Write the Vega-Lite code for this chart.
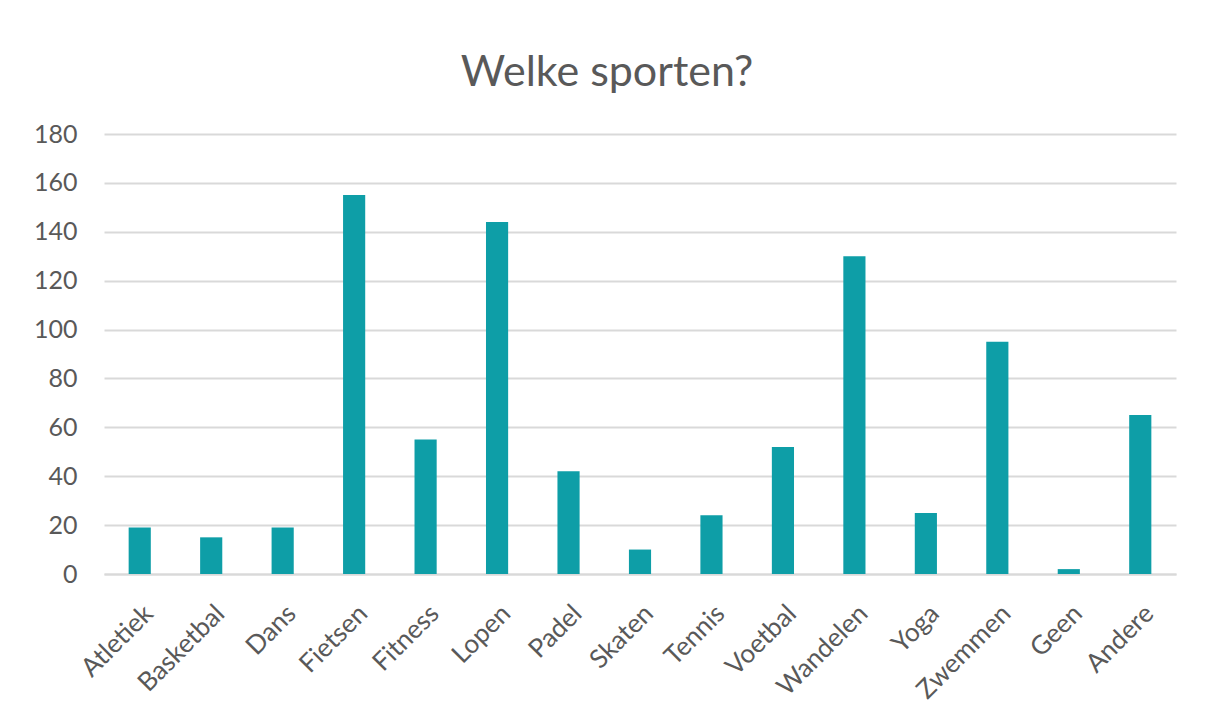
{
  "$schema": "https://vega.github.io/schema/vega-lite/v6.json",
  "width": 1072,
  "height": 440,
  "padding": {"left": 33, "top": 52, "right": 31, "bottom": 10},
  "background": "white",
  "title": {
    "text": "Welke sporten?",
    "font": "Lato",
    "fontSize": 43,
    "fontWeight": "normal",
    "color": "#595959",
    "offset": 27,
    "dx": -33
  },
  "data": {
    "values": [
      {"sport": "Atletiek", "aantal": 19},
      {"sport": "Basketbal", "aantal": 15},
      {"sport": "Dans", "aantal": 19},
      {"sport": "Fietsen", "aantal": 155},
      {"sport": "Fitness", "aantal": 55},
      {"sport": "Lopen", "aantal": 144},
      {"sport": "Padel", "aantal": 42},
      {"sport": "Skaten", "aantal": 10},
      {"sport": "Tennis", "aantal": 24},
      {"sport": "Voetbal", "aantal": 52},
      {"sport": "Wandelen", "aantal": 130},
      {"sport": "Yoga", "aantal": 25},
      {"sport": "Zwemmen", "aantal": 95},
      {"sport": "Geen", "aantal": 2},
      {"sport": "Andere", "aantal": 65}
    ]
  },
  "mark": {"type": "bar", "color": "#0E9EA7", "width": {"band": 0.31}},
  "encoding": {
    "x": {
      "field": "sport",
      "type": "nominal",
      "sort": null,
      "scale": {"paddingInner": 0, "paddingOuter": 0},
      "axis": {
        "title": null,
        "labelAngle": -45,
        "labelFont": "Lato",
        "labelFontSize": 26,
        "labelColor": "#595959",
        "labelPadding": 26,
        "ticks": false,
        "domain": true,
        "domainColor": "#D9D9D9",
        "domainWidth": 2,
        "grid": false
      }
    },
    "y": {
      "field": "aantal",
      "type": "quantitative",
      "scale": {"domain": [0, 180], "nice": false},
      "axis": {
        "title": null,
        "values": [0, 20, 40, 60, 80, 100, 120, 140, 160, 180],
        "labelFont": "Lato",
        "labelFontSize": 25,
        "labelColor": "#595959",
        "labelPadding": 27,
        "ticks": false,
        "domain": false,
        "grid": true,
        "gridColor": "#D9D9D9",
        "gridWidth": 2
      }
    }
  },
  "config": {"view": {"stroke": null}}
}
